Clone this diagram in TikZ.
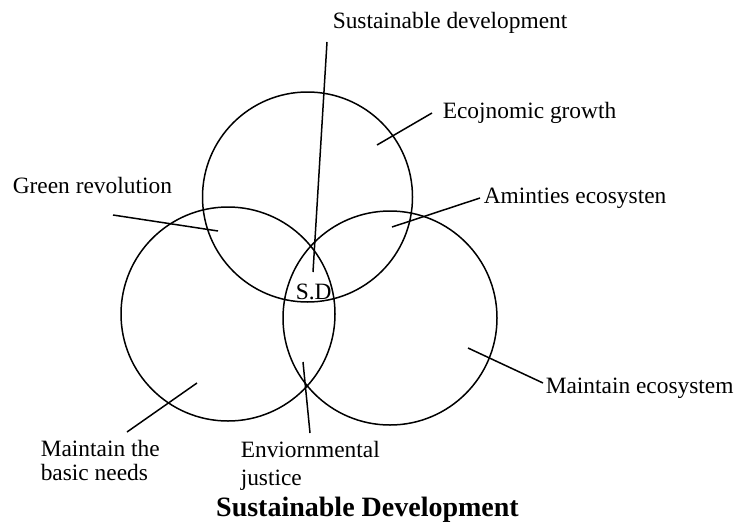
\documentclass[tikz,border=0pt]{standalone}
\usepackage{fontspec}
\setmainfont{Liberation Serif}
\begin{document}
\begin{tikzpicture}[x=1pt,y=-1pt,line width=1.5pt,
	lbl/.style={inner sep=0pt,anchor=west,align=left,font=\fontsize{23.4}{24}\selectfont}]
	\useasboundingbox (0,0) rectangle (751,527);
	%三个圆
	\coordinate (c-top) at (307.5,197);
	\coordinate (c-left) at (228,314);
	\coordinate (c-right) at (390,318);
	\draw (c-top) circle (105pt) (c-left) circle (107pt) (c-right) circle (107pt);
	\node[lbl] (sd) at (295,292) {S.D};
	%标注
	\node[lbl] (l-sd) at (332,23) {Sustainable development};
	\node[lbl] (l-eco) at (442,113) {Ecojnomic growth};
	\node[lbl] (l-green) at (12,185) {Green revolution};
	\node[lbl] (l-amen) at (483,198) {Aminties ecosysten};
	\node[lbl] (l-main) at (545,388) {Maintain ecosystem};
	\node[lbl] (l-basic) at (40,460) {Maintain the\\basic needs};
	\node[lbl] (l-env) at (240,466) {Enviornmental\\[4pt]justice};
	\coordinate (a-sd) at (327,42);   \coordinate (b-sd) at (313,272);
	\coordinate (a-eco) at (432,113); \coordinate (b-eco) at (377,145);
	\coordinate (a-green) at (113,215); \coordinate (b-green) at (218,231);
	\coordinate (a-amen) at (480,198); \coordinate (b-amen) at (392,227);
	\coordinate (a-main) at (543,383); \coordinate (b-main) at (468,348);
	\coordinate (a-basic) at (127,432); \coordinate (b-basic) at (197,383);
	\coordinate (a-env) at (310,433); \coordinate (b-env) at (303,362);
	\draw (a-sd) -- (b-sd) (a-eco) -- (b-eco) (a-green) -- (b-green) (a-amen) -- (b-amen);
	\draw (a-main) -- (b-main) (a-basic) -- (b-basic) (a-env) -- (b-env);
	%标题
	\node[inner sep=0pt,font=\fontsize{28}{30}\selectfont\bfseries] (title) at (367.5,510) {Sustainable Development};
\end{tikzpicture}
\end{document}
